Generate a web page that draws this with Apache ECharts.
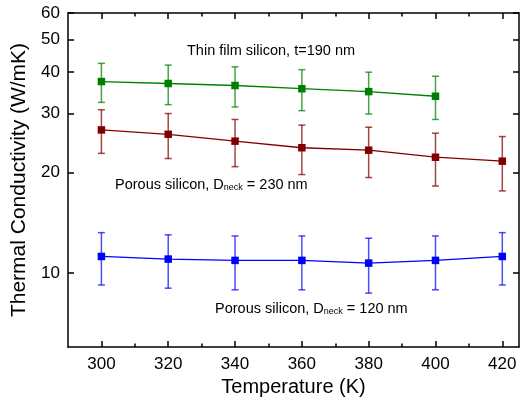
<!DOCTYPE html>
<html>
<head>
<meta charset="utf-8">
<script src="https://cdn.jsdelivr.net/npm/echarts@6/dist/echarts.min.js"></script>
<style>html,body{margin:0;padding:0;background:#fff;}#c{width:521px;height:398px;}</style>
</head>
<body>
<div id="c"></div>
<script>
// ---- data ----
const temperatures = [300, 320, 340, 360, 380, 400, 420];
const thinFilm = [37.4, 36.9, 36.4, 35.6, 34.9, 33.8];
const thinFilmErr = [5, 5, 5, 5, 5, 5];
const porous230 = [26.8, 26.0, 24.8, 23.7, 23.3, 22.2, 21.6];
const porous230Err = [4, 4, 4, 4, 4, 4, 4];
const porous120 = [11.2, 11.0, 10.9, 10.9, 10.7, 10.9, 11.2];
const porous120Err = [2, 2, 2, 2, 2, 2, 2];
const xMajorTicks = [300, 320, 340, 360, 380, 400, 420];
const xMinorTicks = [310, 330, 350, 370, 390, 410];
const yTicks = [10, 20, 30, 40, 50, 60];

const FONT = '"Liberation Sans", Arial, sans-serif';
const xMin = 290, xMax = 425, yMin = 6, yMax = 60;

function pts(vals) { return vals.map((v, i) => [temperatures[i], v]); }
function errPts(vals, errs) { return vals.map((v, i) => [temperatures[i], v - errs[i], v + errs[i]]); }

function errSeries(vals, errs, color) {
  return {
    type: 'custom', xAxisIndex: 0, yAxisIndex: 0, z: 2, silent: true,
    data: errPts(vals, errs),
    renderItem: function (params, api) {
      const x = api.value(0);
      const lo = api.coord([x, api.value(1)]);
      const hi = api.coord([x, api.value(2)]);
      const cw = 3.5;
      const st = { stroke: color, lineWidth: 1.5, fill: null };
      return {
        type: 'group',
        children: [
          { type: 'line', shape: { x1: lo[0], y1: lo[1], x2: hi[0], y2: hi[1] }, style: st },
          { type: 'line', shape: { x1: lo[0] - cw, y1: lo[1], x2: lo[0] + cw, y2: lo[1] }, style: st },
          { type: 'line', shape: { x1: hi[0] - cw, y1: hi[1], x2: hi[0] + cw, y2: hi[1] }, style: st }
        ]
      };
    }
  };
}
function lineSeries(vals, color) {
  return {
    type: 'line', xAxisIndex: 0, yAxisIndex: 0, z: 3,
    data: pts(vals), symbol: 'rect', symbolSize: 7.5,
    lineStyle: { color: color, width: 1.3 },
    itemStyle: { color: color }, animation: false
  };
}

const axisLineStyle = { show: true, lineStyle: { color: '#000', width: 1.5 } };
const logTicks = yTicks.map(v => Math.log10(v));

const chart = echarts.init(document.getElementById('c'), null, { renderer: 'canvas' });
chart.setOption({
  animation: false,
  backgroundColor: '#fff',
  textStyle: { fontFamily: FONT },
  grid: { left: 68, right: 2, top: 13, bottom: 51, containLabel: false, outerBoundsMode: 'none' },
  xAxis: [
    { type: 'value', position: 'bottom', min: xMin, max: xMax,
      axisLine: axisLineStyle,
      axisTick: { show: true, inside: true, length: 6, customValues: xMajorTicks, lineStyle: { color: '#000', width: 1.5 } },
      axisLabel: { show: true, customValues: xMajorTicks, fontSize: 17, color: '#000', margin: 9, fontFamily: FONT },
      splitLine: { show: false },
      name: 'Temperature (K)', nameLocation: 'middle', nameGap: 22,
      nameTextStyle: { fontSize: 20, color: '#000', fontFamily: FONT } },
    { type: 'value', position: 'bottom', min: xMin, max: xMax,
      axisLine: { show: false },
      axisTick: { show: true, inside: true, length: 3.5, customValues: xMinorTicks, lineStyle: { color: '#000', width: 1.5 } },
      axisLabel: { show: false }, splitLine: { show: false } },
    { type: 'value', position: 'top', min: xMin, max: xMax,
      axisLine: axisLineStyle,
      axisTick: { show: true, inside: true, length: 6, customValues: xMajorTicks, lineStyle: { color: '#000', width: 1.5 } },
      axisLabel: { show: false }, splitLine: { show: false } },
    { type: 'value', position: 'top', min: xMin, max: xMax,
      axisLine: { show: false },
      axisTick: { show: true, inside: true, length: 3.5, customValues: xMinorTicks, lineStyle: { color: '#000', width: 1.5 } },
      axisLabel: { show: false }, splitLine: { show: false } }
  ],
  yAxis: [
    { type: 'log', logBase: 10, min: yMin, max: yMax, show: false, splitLine: { show: false } },
    { type: 'value', position: 'left', min: Math.log10(yMin), max: Math.log10(yMax),
      axisLine: axisLineStyle,
      axisTick: { show: true, inside: true, length: 6, customValues: logTicks, lineStyle: { color: '#000', width: 1.5 } },
      axisLabel: { show: true, customValues: logTicks, fontSize: 17, color: '#000', margin: 8, fontFamily: FONT,
        formatter: v => String(Math.round(Math.pow(10, v))) },
      splitLine: { show: false },
      name: 'Thermal Conductivity (W/mK)', nameLocation: 'middle', nameGap: 32, nameRotate: 90,
      nameTextStyle: { fontSize: 21, color: '#000', fontFamily: FONT } },
    { type: 'value', position: 'right', min: Math.log10(yMin), max: Math.log10(yMax),
      axisLine: axisLineStyle,
      axisTick: { show: true, inside: true, length: 6, customValues: logTicks, lineStyle: { color: '#000', width: 1.5 } },
      axisLabel: { show: false }, splitLine: { show: false } }
  ],
  series: [
    errSeries(thinFilm, thinFilmErr, 'rgba(0,128,0,0.72)'),
    errSeries(porous230, porous230Err, 'rgba(128,0,0,0.72)'),
    errSeries(porous120, porous120Err, 'rgba(0,0,255,0.7)'),
    lineSeries(thinFilm, '#008000'),
    lineSeries(porous230, '#800000'),
    lineSeries(porous120, '#0000ff')
  ],
  graphic: [
    { type: 'text', left: 187, top: 43, silent: true,
      style: { text: 'Thin film silicon, t=190 nm', font: '14.5px ' + FONT, fill: '#000' } },
    { type: 'text', left: 115, top: 177, silent: true,
      style: { text: 'Porous silicon, D{sub|neck} = 230 nm', font: '14.5px ' + FONT, fill: '#000',
        rich: { sub: { fontSize: 9, fontFamily: FONT, verticalAlign: 'bottom', lineHeight: 10, fill: '#000' } } } },
    { type: 'text', left: 215, top: 301, silent: true,
      style: { text: 'Porous silicon, D{sub|neck} = 120 nm', font: '14.5px ' + FONT, fill: '#000',
        rich: { sub: { fontSize: 9, fontFamily: FONT, verticalAlign: 'bottom', lineHeight: 10, fill: '#000' } } } }
  ]
});
</script>
</body>
</html>
